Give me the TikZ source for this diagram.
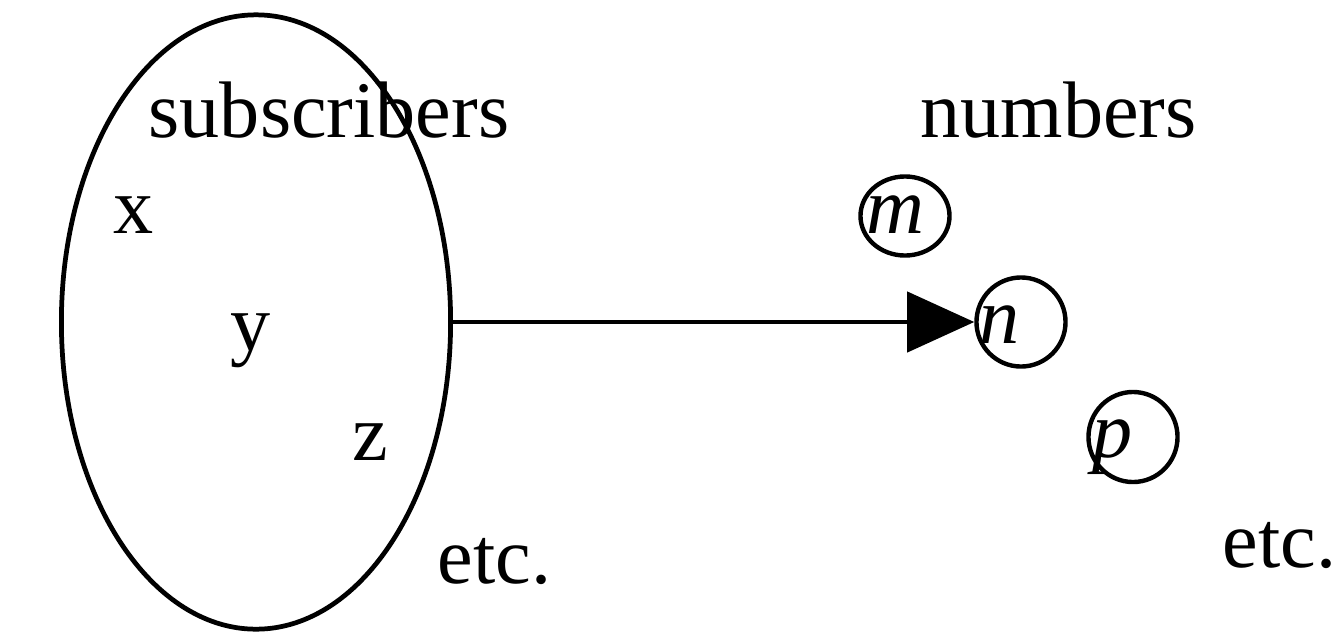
\documentclass[tikz,border=0pt]{standalone}
\usepackage{fontspec}
\setmainfont{Liberation Serif}
\usetikzlibrary{shapes.geometric,arrows.meta}
\begin{document}
\begin{tikzpicture}[x=0.01cm,y=-0.01cm,
  every node/.style={font=\fontsize{22.8}{27}\selectfont,inner sep=0pt},
  word/.style={anchor=base west},
  setshape/.style={draw,ellipse,line width=1.35pt,minimum width=3.89cm,minimum height=6.14cm},
  numshape/.style={draw,ellipse,line width=1.25pt,minimum width=0.89cm,minimum height=0.89cm},
  mapsto/.style={line width=1.2pt,-{Triangle[length=0.67cm,width=0.6cm]}}]
  \useasboundingbox (0,0) rectangle (1336,636);
  % the set of subscribers
  \node[setshape] (subs) at (256,322) {};
  \node[word] (subslabel) at (148,137) {subscribers};
  \node[word] (x) at (113,233) {x};
  \node[word] (y) at (230,350) {y};
  \node[word] (z) at (352,460) {z};
  \node[word] (etcleft) at (437,583) {etc.};
  % the numbers
  \node[word] (numlabel) at (920,137) {numbers};
  \node[numshape,minimum height=0.79cm] (m) at (905,216) {};
  \node[numshape] (n) at (1021,322) {};
  \node[numshape,minimum height=0.9cm] (p) at (1133,437) {};
  \node[word] at (866,233) {\textit{m}};
  \node[word] at (979,343) {\textit{n}};
  \node[word] at (1092,457) {\textit{p}};
  \node[word] (etcright) at (1222,567) {etc.};
  \draw[mapsto] (subs.east) -- (n.west);
\end{tikzpicture}
\end{document}
